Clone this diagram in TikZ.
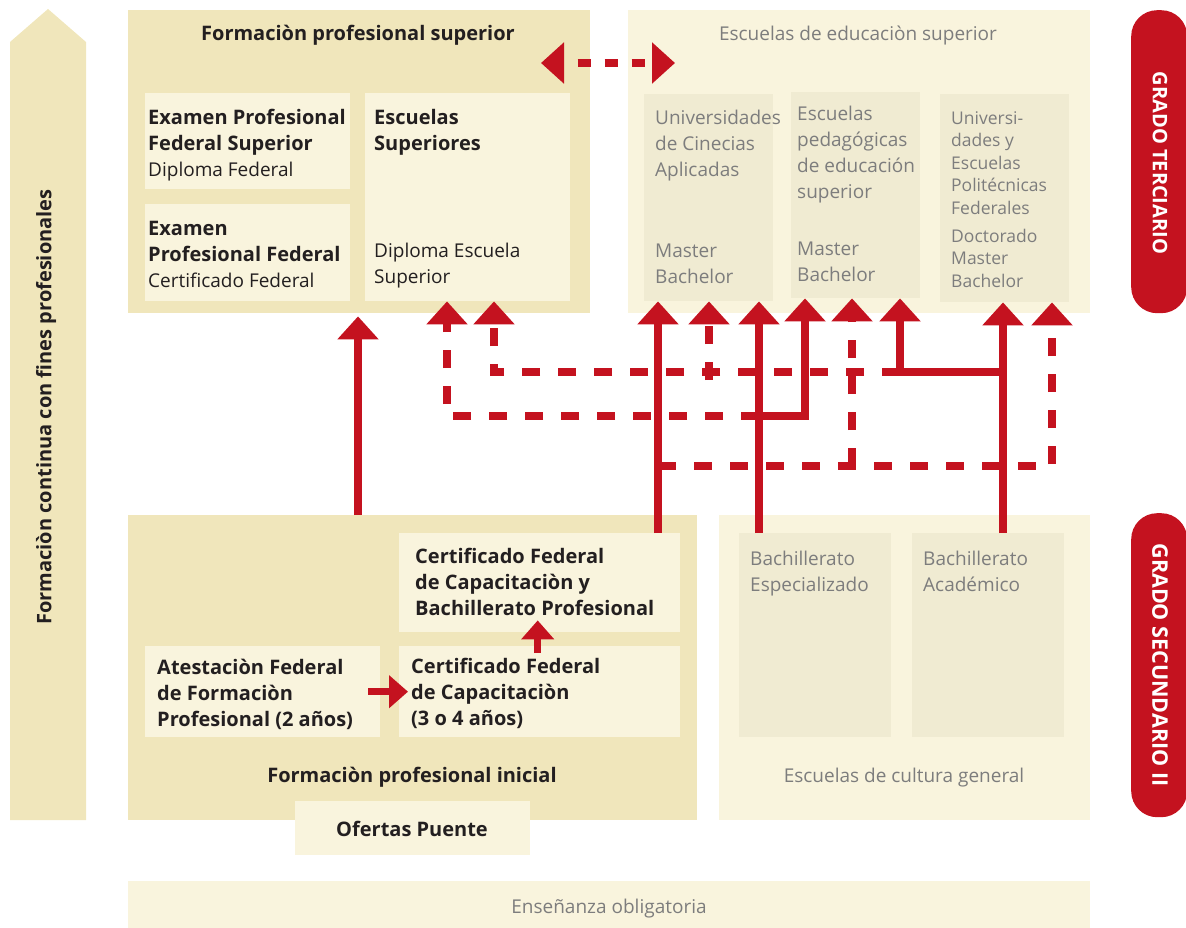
\documentclass[tikz,border=0pt]{standalone}
\usepackage{fontspec}
\setmainfont{Open Sans}
\usetikzlibrary{arrows.meta,calc,positioning}

\definecolor{tanD}{RGB}{240,230,187}
\definecolor{tanL}{RGB}{249,244,221}
\definecolor{tanM}{RGB}{240,235,210}
\definecolor{swred}{RGB}{196,18,31}
\definecolor{txtD}{RGB}{35,31,32}
\definecolor{txtG}{RGB}{125,125,125}

\newcommand{\bx}[1]{{\fontsize{20}{26}\selectfont\bfseries #1}}

\begin{document}
\begin{tikzpicture}[x=1pt,y=-1pt,
  dark/.style={fill=tanD,inner sep=0pt,anchor=north west},
  light/.style={fill=tanL,inner sep=0pt,anchor=north west},
  mid/.style={fill=tanM,inner sep=0pt,anchor=north west},
  tab/.style={fill=swred,rounded corners=26pt,inner sep=0pt,anchor=north west,minimum width=56pt},
  bt/.style={font=\fontsize{20}{26}\selectfont\bfseries,text=txtD,inner sep=0pt},
  rt/.style={font=\fontsize{19}{26}\selectfont,text=txtD,inner sep=0pt},
  gt/.style={font=\fontsize{19}{26}\selectfont,text=txtG,inner sep=0pt},
  gs/.style={font=\fontsize{17.5}{22.5}\selectfont,text=txtG,inner sep=0pt},
  tl/.style={anchor=north west,align=left},
  arr/.style={draw=swred,line width=7.5pt,-{Triangle[width=40pt,length=23pt]}},
  darr/.style={arr,dash pattern=on 18pt off 18pt},
  small/.style={draw=swred,line width=7.5pt,-{Triangle[width=32pt,length=19pt]}}
]
\useasboundingbox (0,0) rectangle (1186,928);

% left arrow
\fill[tanD] (10,820) -- (10,42) -- (48,9) -- (86,42) -- (86,820) -- cycle;
\node[bt,rotate=90] (fcT) at (46,407) {Formaciòn continua con fines profesionales};

% outer boxes
\node[dark,minimum width=462pt,minimum height=303pt] (fps) at (128,10) {};
\node[light,minimum width=462pt,minimum height=303pt] (ees) at (628,10) {};
\node[dark,minimum width=569pt,minimum height=305pt] (fpi) at (128,515) {};
\node[light,minimum width=371pt,minimum height=305pt] (ecg) at (719,515) {};
\node[light,minimum width=235pt,minimum height=54pt] (ofp) at (295,801) {};
\node[light,minimum width=962pt,minimum height=48pt] (eo) at (128,881) {};

% side tabs
\node[tab,minimum height=303pt] (gter) at (1131,10) {};
\node[tab,minimum height=304pt] (gsec) at (1131,513) {};
\node[bt,text=white,rotate=-90] (gterT) at (1160,163) {GRADO TERCIARIO};
\node[bt,text=white,rotate=-90,font=\fontsize{21.5}{26}\selectfont\bfseries] (gsecT) at (1160,665) {GRADO SECUNDARIO II};

% inner boxes
\node[light,minimum width=205pt,minimum height=96pt] (efs) at (145,93) {};
\node[light,minimum width=205pt,minimum height=97pt] (epf) at (145,204) {};
\node[light,minimum width=205pt,minimum height=208pt] (esu) at (365,93) {};
\node[mid,minimum width=129pt,minimum height=207pt] (uca) at (644,94) {};
\node[mid,minimum width=129pt,minimum height=206pt] (epe) at (791,92) {};
\node[mid,minimum width=129pt,minimum height=208pt] (upf) at (940,94) {};
\node[light,minimum width=281pt,minimum height=99pt] (cfb) at (399,533) {};
\node[light,minimum width=235pt,minimum height=91pt] (afp) at (145,646) {};
\node[light,minimum width=281pt,minimum height=91pt] (cfc) at (399,646) {};
\node[mid,minimum width=152pt,minimum height=204pt] (bes) at (739,533) {};
\node[mid,minimum width=152pt,minimum height=204pt] (bac) at (912,533) {};

% titles
\node[bt,anchor=base] (fpsT) at (358,41) {Formaciòn profesional superior};
\node[gt,anchor=base] (eesT) at (858,41) {Escuelas de educaciòn superior};
\node[bt,anchor=base] (fpiT) at (412,782) {Formaciòn profesional inicial};
\node[gt,anchor=base] (ecgT) at (904,782) {Escuelas de cultura general};
\node[bt,anchor=base] (ofpT) at (412,836) {Ofertas Puente};
\node[gt,anchor=base] (eoT) at (609,913) {Enseñanza obligatoria};

% box texts
\node[rt,tl] (efsT) at (148,109) {\bx{Examen Profesional}\\\bx{Federal Superior}\\Diploma Federal};
\node[rt,tl] (epfT) at (148,221) {\bx{Examen}\\\bx{Profesional Federal}\\Certificado Federal};
\node[bt,tl] (esuT) at (374,109) {Escuelas\\Superiores};
\node[rt,tl] (esuD) at (374,243) {Diploma Escuela\\Superior};
\node[gt,tl] (ucaT) at (655,110) {Universidades\\de Cinecias\\Aplicadas};
\node[gt,tl] (ucaD) at (655,244) {Master\\Bachelor};
\node[gt,tl] (epeT) at (797,106) {Escuelas\\pedagógicas\\de educación\\superior};
\node[gt,tl] (epeD) at (797,242) {Master\\Bachelor};
\node[gs,tl] (upfT) at (951,111) {Universi-\\dades y\\Escuelas\\Politécnicas\\Federales};
\node[gs,tl] (upfD) at (951,229) {Doctorado\\Master\\Bachelor};
\node[bt,tl] (cfbT) at (415,548) {Certificado Federal\\de Capacitaciòn y\\Bachillerato Profesional};
\node[bt,tl] (afpT) at (157,659) {Atestaciòn Federal\\de Formaciòn\\Profesional (2 años)};
\node[bt,tl] (cfcT) at (411,658) {Certificado Federal\\de Capacitaciòn\\(3 o 4 años)};
\node[gt,tl] (besT) at (750,551) {Bachillerato\\Especializado};
\node[gt,tl] (bacT) at (923,551) {Bachillerato\\Académico};

% columns and rows of the connectors
\coordinate (ca) at (358,0);
\coordinate (cb) at (447,0);
\coordinate (cc) at (494,0);
\coordinate (cd) at (658,0);
\coordinate (ce) at (709,0);
\coordinate (cf) at (759,0);
\coordinate (cg) at (805,0);
\coordinate (ch) at (852,0);
\coordinate (ci) at (900,0);
\coordinate (cj) at (1003,0);
\coordinate (ck) at (1052,0);
\coordinate (r1) at (0,372);
\coordinate (r2) at (0,416);
\coordinate (r3) at (0,466);
\coordinate (dl) at (541,63);
\coordinate (dr) at (675,63);

% connectors
\draw[arr] (fpi.north -| ca) -- ($(fps.south -| ca)+(0,3)$);
\draw[darr] (cf |- r2) -| (esu.south -| cb);
\draw[darr] (ci |- r1) -| (esu.south -| cc);
\draw[darr] (cd |- r3) -| (upf.south -| ck);
\draw[darr] (ch |- r3) -- (epe.south -| ch);
\draw[darr] ($(ce |- r1)+(0,8)$) -- (uca.south -| ce);
\draw[arr] (cfb.north -| cd) -- (uca.south -| cd);
\draw[arr] (bes.north -| cf) -- (uca.south -| cf);
\draw[arr] (bac.north -| cj) -- (upf.south -| cj);
\draw[arr] (cf |- r2) -| (epe.south -| cg);
\draw[arr] (cj |- r1) -| (epe.south -| ci);
\draw[draw=swred,line width=7.5pt,dash pattern=on 13pt off 14pt,dash phase=12pt,
  {Triangle[width=40pt,length=23pt]}-{Triangle[width=40pt,length=23pt]}] (dl) -- (dr);
\draw[small] ($(afp.east)+(-12,0)$) -- ($(cfc.west)+(9,0)$);
\draw[small] ($(cfc.north)+(-2,7)$) -- ($(cfb.south)+(-2,-12)$);

\end{tikzpicture}
\end{document}
